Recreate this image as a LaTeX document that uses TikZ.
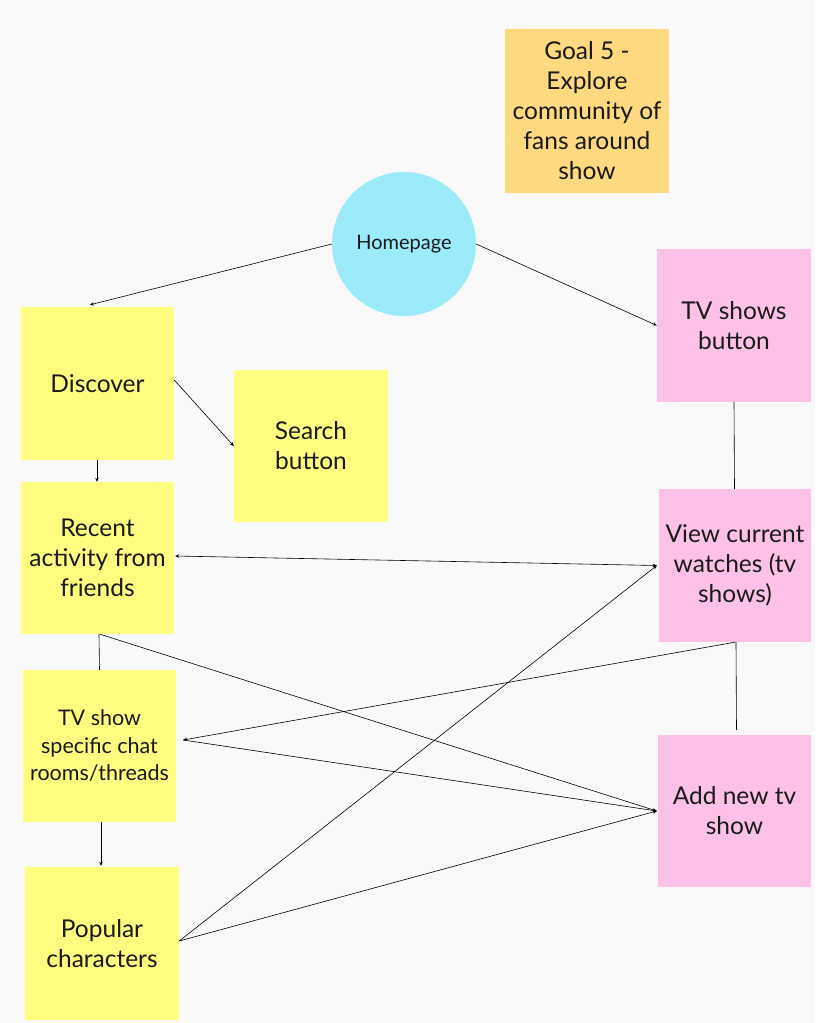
\documentclass[tikz,border=0pt]{standalone}
\usepackage{fontspec}
\setmainfont{Lato}
\usetikzlibrary{arrows.meta}
\definecolor{bgc}{HTML}{F9F9F9}
\definecolor{yel}{HTML}{FFFD80}
\definecolor{pnk}{HTML}{FDC1E7}
\definecolor{org}{HTML}{FFD97F}
\definecolor{cyn}{HTML}{9CEBFB}
\definecolor{txt}{HTML}{1A1A1A}
\tikzset{
  sticky/.style={rectangle, inner sep=0pt, minimum width=153pt, minimum height=153pt,
     align=center, text=txt, font=\fontsize{24.5}{30}\selectfont},
  yelbox/.style={sticky, fill=yel},
  pnkbox/.style={sticky, fill=pnk},
  conn/.style={draw=black, line width=0.6pt},
  arr/.style={conn, -{Stealth[length=4pt,width=3.5pt]}},
}
\begin{document}
\begin{tikzpicture}[x=1pt,y=-1pt]
\fill[bgc] (0,0) rectangle (815,1023);
\useasboundingbox (0,0) rectangle (815,1023);

\node[sticky, fill=org, minimum width=164pt, minimum height=164pt] (goal) at (587,111) {Goal 5 -\\Explore\\community of\\fans around\\show};
\node[circle, fill=cyn, minimum size=144pt, inner sep=0pt, text=txt, font=\fontsize{20}{24}\selectfont] (home) at (404,244) {Homepage};

\node[yelbox] (disc) at (97.5,383.5) {Discover};
\node[yelbox, minimum width=154pt, minimum height=152pt] (search) at (311,446) {Search\\button};
\node[yelbox, minimum height=152pt] (recent) at (97.5,558) {Recent\\activity from\\friends};
\node[yelbox, minimum height=152pt, font=\fontsize{21.5}{27.5}\selectfont] (tvchat) at (99.5,746) {TV show\\specific chat\\rooms/threads};
\node[yelbox, minimum width=154pt] (popular) at (102,943.5) {Popular\\characters};

\node[pnkbox, minimum width=154pt] (tvbtn) at (734,325.5) {TV shows\\button};
\node[pnkbox, minimum width=152pt] (view) at (735,565.5) {View current\\watches (tv\\shows)};
\node[pnkbox, minimum height=152pt] (addnew) at (734.5,811) {Add new tv\\show};

\draw[arr] (home.west) -- ([xshift=-7.5pt,yshift=2pt]disc.north);
\draw[arr] (home.east) -- (tvbtn.west);
\draw[arr] ([yshift=3.5pt]disc.east) -- (search.west);
\draw[arr] ([xshift=-0.5pt]disc.south) -- ([xshift=-0.5pt]recent.north);
\draw[conn] (tvbtn.south) -- ([xshift=-0.5pt]view.north);
\draw[conn, {Stealth[length=4pt,width=3.5pt]}-{Stealth[length=4pt,width=3.5pt]}] ([xshift=1pt,yshift=2pt]recent.east) -- ([xshift=-2pt]view.west);
\draw[conn] ([xshift=1.5pt]recent.south) -- (tvchat.north);
\draw[arr] ([xshift=2.5pt]recent.south) -- ([xshift=-1pt]addnew.west);
\draw[arr] (view.south) -- ([xshift=7pt,yshift=6pt]tvchat.east);
\draw[arr] ([xshift=7pt,yshift=6pt]tvchat.east) -- ([xshift=-1pt]addnew.west);
\draw[arr] ([xshift=1.5pt]tvchat.south) -- ([xshift=-1pt,yshift=1pt]popular.north);
\draw[arr] ([yshift=2.5pt]popular.east) -- ([xshift=-2pt]view.west);
\draw[arr] ([yshift=2.5pt]popular.east) -- ([xshift=-1pt]addnew.west);
\draw[conn] ([xshift=1pt]view.south) -- ([xshift=2pt,yshift=5pt]addnew.north);
\end{tikzpicture}
\end{document}
